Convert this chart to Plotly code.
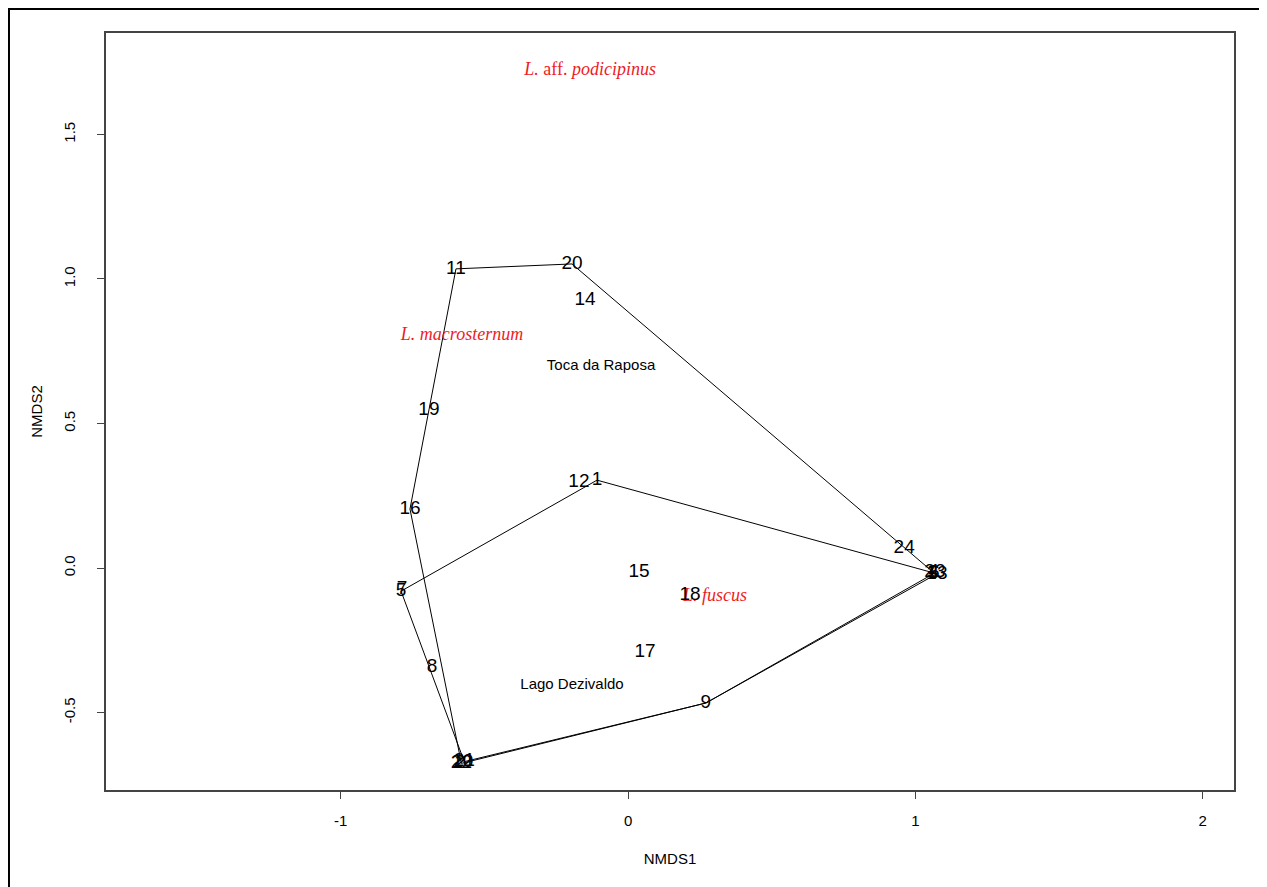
import plotly.graph_objects as go

# Site scores (NMDS1, NMDS2)
site_labels = ["11", "20", "14", "19", "16", "12", "1", "5", "7", "8", "15", "18", "17", "9", "24",
               "3", "4", "6", "13", "23", "2", "10", "21", "22"]
site_x = [-0.599, -0.195, -0.150, -0.693, -0.759, -0.171, -0.108, -0.790, -0.787, -0.682, 0.038, 0.216,
          0.059, 0.271, 0.961, 1.060, 1.063, 1.066, 1.075, 1.068, -0.585, -0.575, -0.570, -0.580]
site_y = [1.035, 1.052, 0.927, 0.547, 0.204, 0.298, 0.304, -0.080, -0.075, -0.343, -0.014, -0.093,
          -0.291, -0.467, 0.069, -0.017, -0.015, -0.018, -0.020, -0.016, -0.675, -0.672, -0.670, -0.676]

# Hulls (site labels in drawing order)
hull_a = ["11", "20", "6", "9", "22", "16", "19", "11"]
hull_b = ["5", "1", "13", "9", "21", "5"]

# Species scores
species_labels = ["L. aff. podicipinus", "L. macrosternum", "L. fuscus"]
species_x = [-0.132, -0.578, 0.303]
species_y = [1.723, 0.806, -0.100]

# Group labels
group_labels = ["Toca da Raposa", "Lago Dezivaldo"]
group_x = [-0.094, -0.195]
group_y = [0.699, -0.405]

x_ticks = [-1, 0, 1, 2]
y_ticks = [-0.5, 0.0, 0.5, 1.0, 1.5]

pos = {lab: (x, y) for lab, x, y in zip(site_labels, site_x, site_y)}

fig = go.Figure()
for hull in (hull_a, hull_b):
    fig.add_trace(go.Scatter(
        x=[pos[h][0] for h in hull], y=[pos[h][1] for h in hull],
        mode="lines", line=dict(color="black", width=1), hoverinfo="skip", showlegend=False))

species_html = ["<i>L.</i> aff. <i>podicipinus</i>", "<i>L. macrosternum</i>", "<i>L. fuscus</i>"]
fig.add_trace(go.Scatter(
    x=species_x, y=species_y, text=species_html, mode="text",
    textfont=dict(family="Liberation Serif, Times New Roman", size=18, color="#ee1c25"),
    textposition="middle center", showlegend=False))

fig.add_trace(go.Scatter(
    x=site_x, y=site_y, text=site_labels, mode="text",
    textfont=dict(family="Liberation Sans, Arial", size=19, color="black"),
    textposition="middle center", showlegend=False))

fig.add_trace(go.Scatter(
    x=group_x, y=group_y, text=group_labels, mode="text",
    textfont=dict(family="Liberation Sans, Arial", size=15, color="black"),
    textposition="middle center", showlegend=False))

axis_common = dict(showgrid=False, zeroline=False, showline=True, mirror=True,
                   linecolor="#444", linewidth=1.5, ticks="outside", ticklen=7,
                   tickcolor="#444", tickwidth=1,
                   tickfont=dict(family="Liberation Sans, Arial", size=15, color="black"))

fig.update_layout(
    width=1259, height=879,
    margin=dict(l=98, r=33, t=25, b=97),
    paper_bgcolor="white", plot_bgcolor="white",
    xaxis=dict(range=[-1.817, 2.109], tickvals=x_ticks, ticktext=[str(v) for v in x_ticks],
               ticklabelstandoff=9,
               title=dict(text="NMDS1", standoff=26,
                          font=dict(family="Liberation Sans, Arial", size=15, color="black")),
               **axis_common),
    yaxis=dict(range=[-0.768, 1.851], tickvals=y_ticks, ticktext=[f"{v:.1f}" for v in y_ticks],
               tickangle=-90, ticklabelstandoff=16,
               title=dict(text="NMDS2", standoff=15,
                          font=dict(family="Liberation Sans, Arial", size=15, color="black")),
               **axis_common),
    shapes=[
        dict(type="line", xref="paper", yref="paper", x0=-0.0860, x1=-0.0860, y0=1.04, y1=-0.2,
             line=dict(color="black", width=2)),
        dict(type="line", xref="paper", yref="paper", x0=-0.0869, x1=1.1, y0=1.0317, y1=1.0317,
             line=dict(color="black", width=2)),
    ],
)

fig.write_html("out.html")
